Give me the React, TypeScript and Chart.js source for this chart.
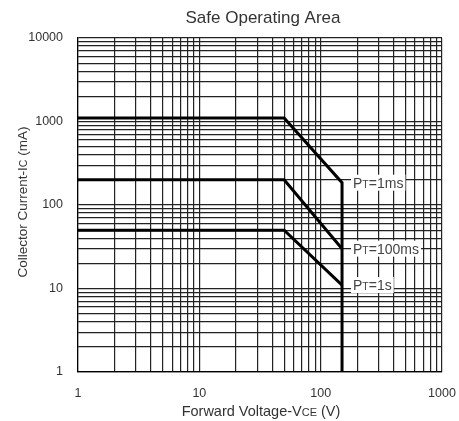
import React, { useEffect, useRef } from "react";
import { Chart, registerables } from "chart.js";

Chart.register(...registerables);

const chartTitle = "Safe Operating Area";

const gridVoltage = [1, 2, 3, 4, 5, 6, 7, 8, 9, 10, 20, 30, 40, 50, 60, 70, 80, 90, 100, 200, 300, 400, 500, 600, 700, 800, 900, 1000];
const gridCurrent = [1, 2, 3, 4, 5, 6, 7, 8, 9, 10, 20, 30, 40, 50, 60, 70, 80, 90, 100, 200, 300, 400, 500, 600, 700, 800, 900, 1000, 2000, 3000, 4000, 5000, 6000, 7000, 8000, 9000, 10000];
const voltageLabels = [1, 10, 100, 1000];
const currentLabels = [1, 10, 100, 1000, 10000];

const vce1ms = [1, 50, 150, 150];
const ic1ms = [1100, 1100, 185, 1];
const vce100ms = [1, 50, 150];
const ic100ms = [200, 200, 30];
const vce1s = [1, 50, 150];
const ic1s = [50, 50, 11];

const curveNames = ["=1ms", "=100ms", "=1s"];
const curveEndVoltage = [150, 150, 150];
const curveEndCurrent = [185, 30, 11];

const FONT = "'Liberation Sans', Arial, sans-serif";

function toPoints(xs: number[], ys: number[]) {
  return xs.map((x, i) => ({ x, y: ys[i] }));
}

const textPlugin = {
  id: "soaText",
  beforeDraw(chart: any) {
    const ctx = chart.ctx;
    ctx.save();
    ctx.fillStyle = "#fff";
    ctx.fillRect(0, 0, chart.width, chart.height);
    ctx.restore();
  },
  afterDraw(chart: any) {
    const ctx: CanvasRenderingContext2D = chart.ctx;
    const area = chart.chartArea;
    const xs = chart.scales.x;
    const ys = chart.scales.y;
    ctx.save();
    // Title
    ctx.fillStyle = "#333";
    ctx.font = `17px ${FONT}`;
    ctx.textAlign = "center";
    ctx.textBaseline = "middle";
    ctx.fillText(chartTitle, (area.left + area.right) / 2 + 3, 18);

    const drawParts = (parts: [string, number][], cx: number, cy: number) => {
      let total = 0;
      const widths = parts.map(([t, s]) => {
        ctx.font = `${s}px ${FONT}`;
        const w = ctx.measureText(t).width;
        total += w;
        return w;
      });
      let x = cx - total / 2;
      ctx.textAlign = "left";
      ctx.textBaseline = "alphabetic";
      parts.forEach(([t, s], i) => {
        ctx.font = `${s}px ${FONT}`;
        ctx.fillText(t, x, cy + 5);
        x += widths[i];
      });
      return total;
    };

    // X title
    ctx.fillStyle = "#333";
    drawParts([["Forward Voltage-V", 14.5], ["CE", 11], [" (V)", 14.5]], 261, 411);

    // Y title
    ctx.save();
    ctx.translate(22, 202);
    ctx.rotate(-Math.PI / 2);
    drawParts([["Collector Current-I", 13.5], ["C", 10.5], [" (mA)", 13.5]], 0, 0);
    ctx.restore();

    // Curve labels
    curveNames.forEach((name, i) => {
      const px = xs.getPixelForValue(curveEndVoltage[i]) + 11;
      const py = ys.getPixelForValue(curveEndCurrent[i]);
      const parts: [string, number][] = [["P", 14], ["T", 10.5], [name, 14]];
      let total = 0;
      const widths = parts.map(([t, s]) => {
        ctx.font = `${s}px ${FONT}`;
        const w = ctx.measureText(t).width;
        total += w;
        return w;
      });
      ctx.fillStyle = "#fff";
      ctx.fillRect(px - 2, py - 8, total + 4, 16);
      ctx.fillStyle = "#444";
      ctx.textAlign = "left";
      ctx.textBaseline = "alphabetic";
      let x = px;
      parts.forEach(([t, s], j) => {
        ctx.font = `${s}px ${FONT}`;
        ctx.fillText(t, x, py + 5);
        x += widths[j];
      });
    });
    ctx.restore();
  },
};

export default function App() {
  const ref = useRef<HTMLCanvasElement | null>(null);
  useEffect(() => {
    if (!ref.current) return;
    const lineStyle = {
      borderColor: "#000",
      borderWidth: 3,
      pointRadius: 0,
      fill: false,
      tension: 0,
    };
    const chart = new Chart(ref.current, {
      type: "line",
      data: {
        datasets: [
          { label: "PT=1ms", data: toPoints(vce1ms, ic1ms), ...lineStyle },
          { label: "PT=100ms", data: toPoints(vce100ms, ic100ms), ...lineStyle },
          { label: "PT=1s", data: toPoints(vce1s, ic1s), ...lineStyle },
        ],
      },
      options: {
        animation: false,
        responsive: false,
        layout: { padding: { top: 38, right: 17, left: 0, bottom: 0 } },
        plugins: { legend: { display: false }, tooltip: { enabled: false }, title: { display: false } },
        scales: {
          x: {
            type: "logarithmic",
            min: 1,
            max: 1000,
            afterFit: (s: any) => {
              s.height = 49;
              s.paddingLeft = 0;
              s.paddingRight = 0;
            },
            afterBuildTicks: (s: any) => {
              s.ticks = gridVoltage.map((v) => ({ value: v }));
            },
            grid: { color: "#222", lineWidth: 1.2, drawTicks: false },
            border: { display: true, color: "#000", width: 1.2 },
            ticks: {
              autoSkip: false,
              maxRotation: 0,
              padding: 14,
              color: "#333",
              font: { family: FONT, size: 12.5 },
              callback: (v: any) => (voltageLabels.includes(Number(v)) ? String(v) : ""),
            },
          },
          y: {
            type: "logarithmic",
            min: 1,
            max: 10000,
            afterFit: (s: any) => {
              s.width = 78;
              s.paddingTop = 0;
              s.paddingBottom = 0;
            },
            afterBuildTicks: (s: any) => {
              s.ticks = gridCurrent.map((v) => ({ value: v }));
            },
            grid: { color: "#222", lineWidth: 1.2, drawTicks: false },
            border: { display: true, color: "#000", width: 1.2 },
            ticks: {
              autoSkip: false,
              padding: 15,
              color: "#333",
              font: { family: FONT, size: 12.5 },
              callback: (v: any) => (currentLabels.includes(Number(v)) ? String(v) : ""),
            },
          },
        },
      },
      plugins: [textPlugin],
    } as any);
    return () => chart.destroy();
  }, []);
  return (
    <canvas
      ref={ref}
      width={459}
      height={421}
      style={{ position: "absolute", left: 0, top: 0, width: 459, height: 421, display: "block" }}
    />
  );
}
